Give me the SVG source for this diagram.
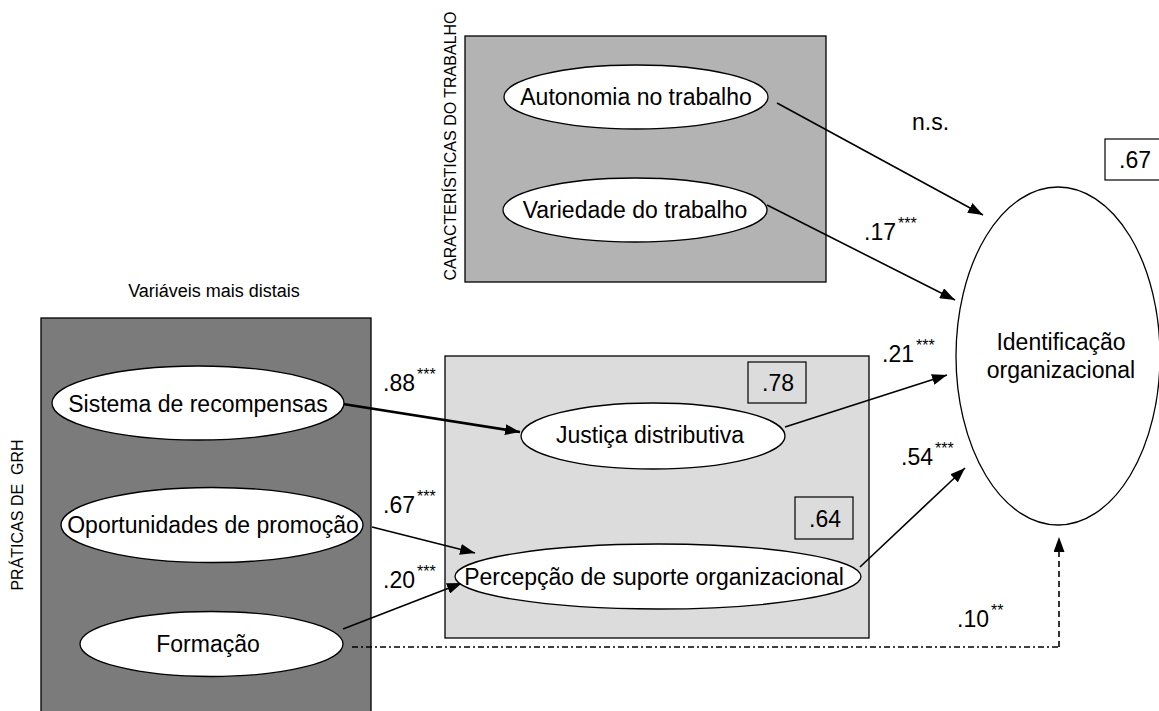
<svg xmlns="http://www.w3.org/2000/svg" width="1159" height="711" viewBox="0 0 1159 711">
  <style>
    text { font-family: "Liberation Sans", Arial, sans-serif; fill: #000; }
    .lbl { font-size: 23px; }
    .mid { text-anchor: middle; }
    .cap { font-size: 16px; }
    .sup { font-size: 16px; }
    .node { fill: #fff; stroke: #000; stroke-width: 1.3; }
    .box { stroke: #000; stroke-width: 1.3; }
    .conn { fill: none; stroke: #000; stroke-width: 1.6; }
    .thick { stroke-width: 2.6; }
    .r2 { fill: none; stroke: #000; stroke-width: 1.2; }
  </style>
  <defs>
    <marker id="arrow" markerUnits="userSpaceOnUse" viewBox="0 0 15 11" markerWidth="15" markerHeight="11" refX="15" refY="5.5" orient="auto">
      <path d="M0,0 L15,5.5 L0,11 Z" fill="#000"/>
    </marker>
  </defs>

  <!-- group backgrounds -->
  <g id="grupo-caracteristicas">
    <rect class="box" x="465" y="36" width="361" height="246" fill="#b3b3b3"/>
    <text class="cap mid" transform="translate(456,146) rotate(-90)">CARACTERÍSTICAS DO TRABALHO</text>
  </g>
  <g id="grupo-grh">
    <rect class="box" x="41" y="318" width="330" height="400" fill="#7b7b7b"/>
    <text class="cap mid" transform="translate(23,515) rotate(-90)" xml:space="preserve">PRÁTICAS DE  GRH</text>
    <text class="mid" x="214" y="297" font-size="18">Variáveis mais distais</text>
  </g>
  <g id="grupo-mediadores">
    <rect class="box" x="445" y="356" width="424" height="282" fill="#dcdcdc"/>
  </g>

  <!-- connectors -->
  <g id="connectors">
    <path class="conn" d="M777,103 L983,215" marker-end="url(#arrow)"/>
    <path class="conn" d="M767,205 L955,300" marker-end="url(#arrow)"/>
    <path class="conn thick" d="M343,404 L520,432" marker-end="url(#arrow)"/>
    <path class="conn" d="M372,527 L475,553" marker-end="url(#arrow)"/>
    <path class="conn" d="M343,629 L462,583" marker-end="url(#arrow)"/>
    <path class="conn" d="M785,427 L947,375" marker-end="url(#arrow)"/>
    <path class="conn" d="M860,567 L965,468" marker-end="url(#arrow)"/>
    <path class="conn" d="M352,647 H1059" stroke-width="1.3" stroke-dasharray="6 3 2 3"/>
    <path class="conn" d="M1059,647 V537" stroke-width="1.3" stroke-dasharray="6 4" marker-end="url(#arrow)"/>
  </g>

  <!-- path coefficients -->
  <g id="coeficientes">
    <text class="lbl" x="912" y="130">n.s.</text>
    <text class="lbl" x="864" y="240">.17<tspan class="sup" dx="2" dy="-11">***</tspan></text>
    <text class="lbl" x="383" y="391">.88<tspan class="sup" dx="2" dy="-11">***</tspan></text>
    <text class="lbl" x="383" y="513">.67<tspan class="sup" dx="2" dy="-11">***</tspan></text>
    <text class="lbl" x="383" y="588">.20<tspan class="sup" dx="2" dy="-11">***</tspan></text>
    <text class="lbl" x="882" y="362">.21<tspan class="sup" dx="2" dy="-11">***</tspan></text>
    <text class="lbl" x="901" y="465">.54<tspan class="sup" dx="2" dy="-11">***</tspan></text>
    <text class="lbl" x="957" y="627">.10<tspan class="sup" dx="2" dy="-11">**</tspan></text>
  </g>

  <!-- explained variance boxes -->
  <g id="r2-identificacao">
    <rect class="r2" x="1105" y="139" width="58" height="41"/>
    <text class="lbl" x="1119" y="168">.67</text>
  </g>
  <g id="r2-justica">
    <rect class="r2" x="748" y="362" width="58" height="41"/>
    <text class="lbl" x="762" y="391">.78</text>
  </g>
  <g id="r2-suporte">
    <rect class="r2" x="795" y="497" width="58" height="42"/>
    <text class="lbl" x="809" y="527">.64</text>
  </g>

  <!-- nodes -->
  <g id="autonomia">
    <ellipse class="node" cx="636" cy="97" rx="132" ry="32"/>
    <text class="lbl mid" x="636" y="105">Autonomia no trabalho</text>
  </g>
  <g id="variedade">
    <ellipse class="node" cx="635" cy="210" rx="132" ry="32"/>
    <text class="lbl mid" x="635" y="218">Variedade do trabalho</text>
  </g>
  <g id="sistema-recompensas">
    <ellipse class="node" cx="198" cy="403" rx="146" ry="37"/>
    <text class="lbl mid" x="198" y="412">Sistema de recompensas</text>
  </g>
  <g id="oportunidades-promocao">
    <ellipse class="node" cx="212" cy="525" rx="151" ry="37.5"/>
    <text class="lbl mid" x="213" y="533">Oportunidades de promoção</text>
  </g>
  <g id="formacao">
    <ellipse class="node" cx="211.5" cy="644" rx="131.5" ry="32.5"/>
    <text class="lbl mid" x="208" y="652">Formação</text>
  </g>
  <g id="justica-distributiva">
    <ellipse class="node" cx="653" cy="436" rx="132" ry="33"/>
    <text class="lbl mid" x="650" y="443">Justiça distributiva</text>
  </g>
  <g id="suporte-organizacional">
    <ellipse class="node" cx="658" cy="576.5" rx="203" ry="32.5"/>
    <text class="lbl mid" x="654" y="585">Percepção de suporte organizacional</text>
  </g>
  <g id="identificacao-organizacional">
    <ellipse class="node" cx="1058" cy="356" rx="102" ry="169"/>
    <text class="lbl mid" x="1061" y="350">Identificação</text>
    <text class="lbl mid" x="1061" y="378">organizacional</text>
  </g>
</svg>
